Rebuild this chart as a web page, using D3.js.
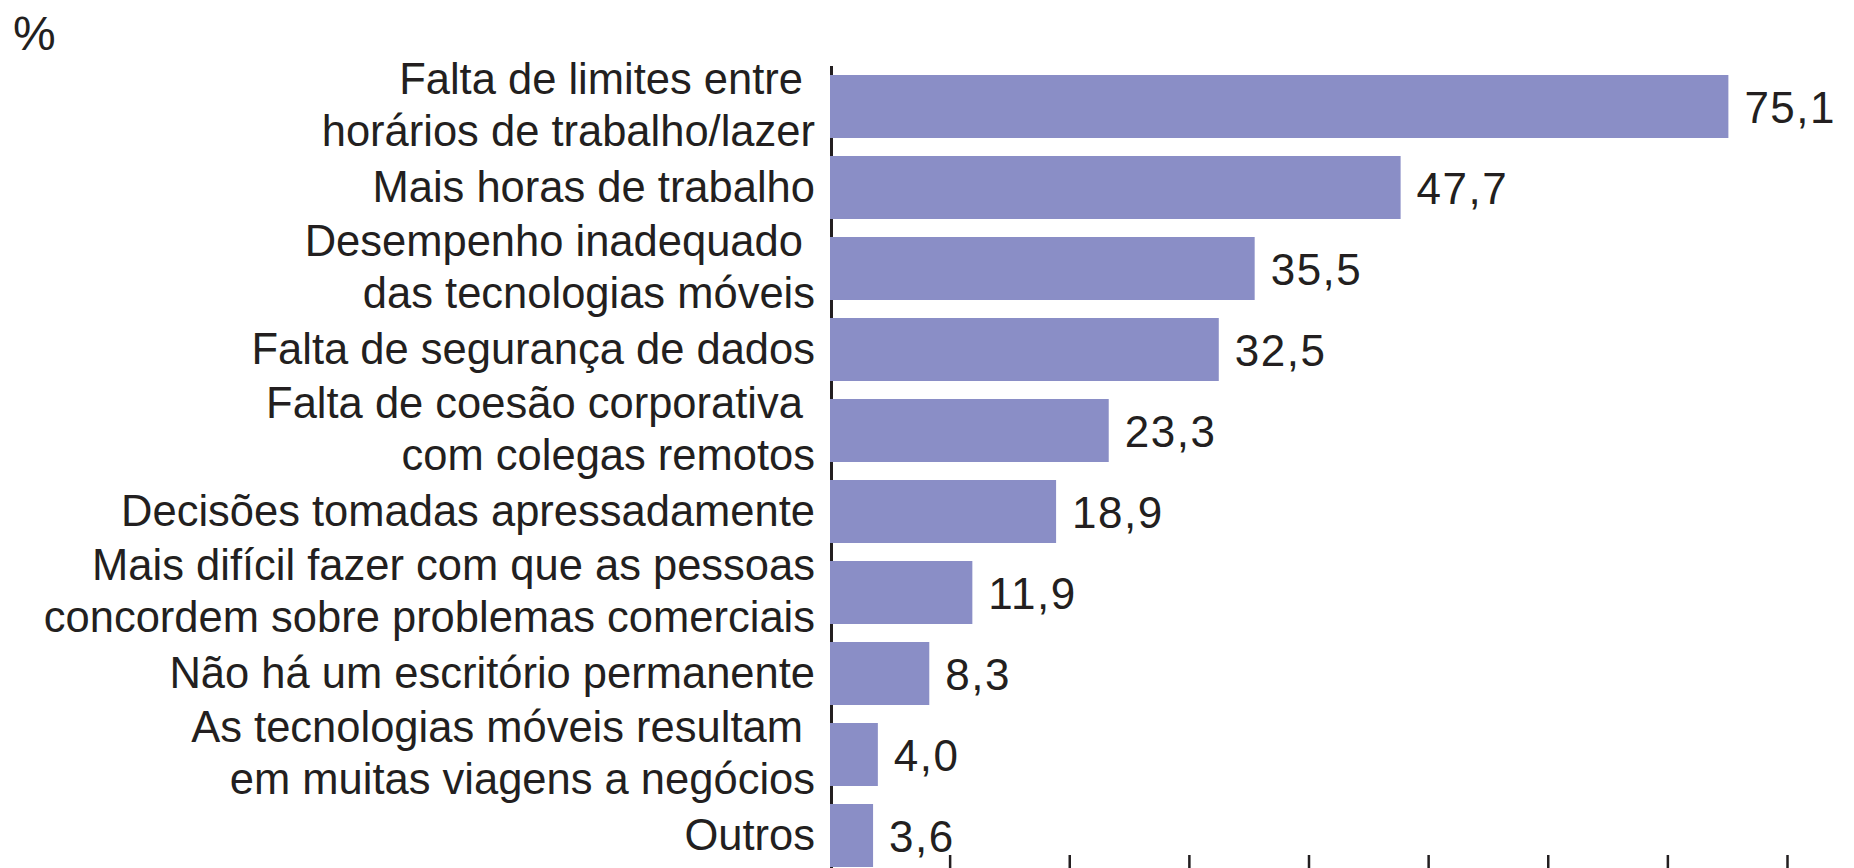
<!DOCTYPE html>
<html>
 <head>
    <meta charset="utf-8">
    <style>
        body { margin: 0; background: #fff; }
        svg { display: block; }
        text { font-family: 'Liberation Sans', Arial, sans-serif; fill: #231f20; white-space: pre; }
    </style>
    <script src="https://d3js.org/d3.v7.min.js"></script>
 </head>
 <body>
    <div id="chart"></div>
    <script>
        // one entry per bar, "|" splits a label over two lines
        var categories = [
            "Falta de limites entre |horários de trabalho/lazer",
            "Mais horas de trabalho",
            "Desempenho inadequado |das tecnologias móveis",
            "Falta de segurança de dados",
            "Falta de coesão corporativa |com colegas remotos",
            "Decisões tomadas apressadamente",
            "Mais difícil fazer com que as pessoas|concordem sobre problemas comerciais",
            "Não há um escritório permanente",
            "As tecnologias móveis resultam |em muitas viagens a negócios",
            "Outros"
        ];
        var values = [75.1, 47.7, 35.5, 32.5, 23.3, 18.9, 11.9, 8.3, 4.0, 3.6];
        var tickValues = [10, 20, 30, 40, 50, 60, 70, 80];
        var unitLabel = "%";

        var W = 1854, H = 868;
        var ink = "#231f20";

        var ptBR = d3.formatLocale({decimal: ",", thousands: ".", grouping: [3], currency: ["", ""]});
        var fmt = ptBR.format(".1f");

        var svg = d3.select("#chart").append("svg")
            .attr("width", W).attr("height", H);

        var x = d3.scaleLinear().domain([0, 80]).range([830, 1787]);
        var y = d3.scaleBand().domain(categories).range([75, 867])
            .paddingInner(18 / 81).paddingOuter(0);

        svg.append("text")
            .attr("x", 13).attr("y", 50)
            .attr("font-size", 48)
            .text(unitLabel);

        // vertical axis line, drawn under the bars
        svg.append("line")
            .attr("x1", x(0) + 1.5).attr("x2", x(0) + 1.5)
            .attr("y1", 66).attr("y2", H)
            .attr("stroke", ink).attr("stroke-width", 3);

        svg.selectAll("rect.bar").data(values).join("rect")
            .attr("class", "bar")
            .attr("x", x(0))
            .attr("y", function(d, i) { return y(categories[i]); })
            .attr("width", function(d) { return x(d) - x(0); })
            .attr("height", y.bandwidth())
            .attr("fill", "#8a8ec6");

        // category labels
        var lab = svg.append("g").attr("font-size", 43.5).attr("text-anchor", "end");
        categories.forEach(function(c) {
            var lines = c.split("|");
            var cy = y(c) + y.bandwidth() / 2;
            var t = lab.append("text").attr("x", 815);
            if (lines.length === 1) {
                t.attr("y", cy + 14).text(lines[0]);
            } else {
                t.append("tspan").attr("x", 815).attr("y", cy - 13).text(lines[0]);
                t.append("tspan").attr("x", 815).attr("y", cy + 39).text(lines[1]);
            }
        });

        // value labels
        svg.append("g").attr("font-size", 44)
            .selectAll("text").data(values).join("text")
            .attr("x", function(d) { return x(d) + 16; })
            .attr("y", function(d, i) { return y(categories[i]) + y.bandwidth() / 2 + 16; })
            .attr("letter-spacing", 1.5)
            .text(function(d) { return fmt(d); });

        // small ticks along the bottom
        var axis = svg.append("g")
            .attr("transform", "translate(0," + H + ")")
            .call(d3.axisBottom(x).tickValues(tickValues).tickSize(-13).tickFormat(""));
        axis.select(".domain").remove();
        axis.selectAll(".tick line").attr("stroke", ink).attr("stroke-width", 2.5);
    </script>
 </body>
</html>
